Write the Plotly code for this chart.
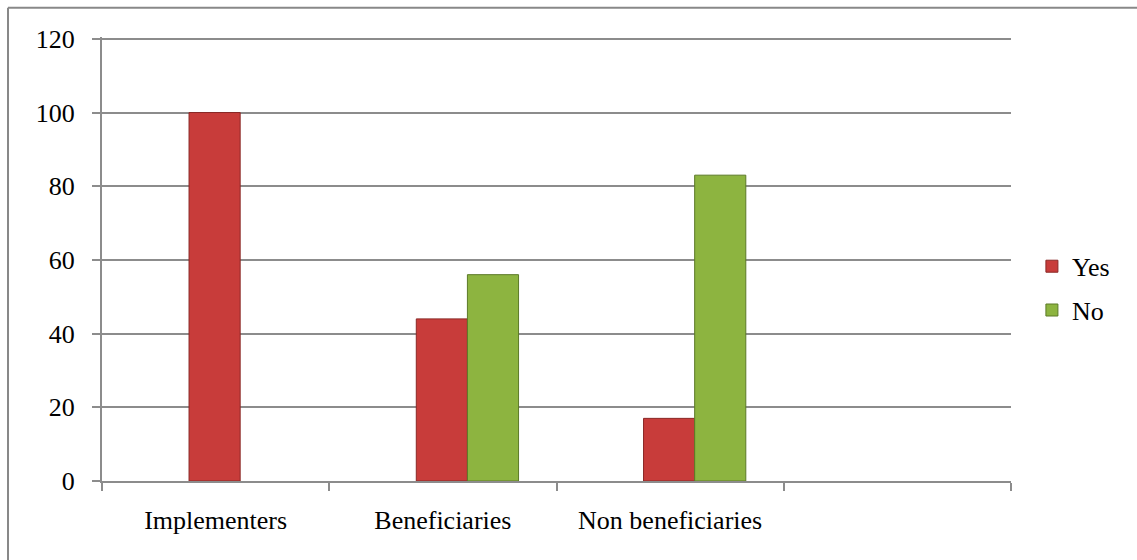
import plotly.graph_objects as go

categories = ["Implementers", "Beneficiaries", "Non beneficiaries", " "]
yes_values = [100, 44, 17, None]
no_values = [None, 56, 83, None]
y_ticks = [0, 20, 40, 60, 80, 100, 120]

FONT = "'Liberation Serif', 'Times New Roman', 'DejaVu Serif', serif"
GRID = "#8c8c8c"
FS = 26

fig = go.Figure()
fig.add_trace(go.Bar(
    x=categories, y=yes_values, name="Yes", legendgroup="yes",
    width=0.225, offset=-0.117,
    marker=dict(color="#C83C3A", line=dict(color="#8A2826", width=1)),
))
fig.add_trace(go.Bar(
    x=categories, y=no_values, name="No", legendgroup="no",
    width=0.225, offset=0.108,
    marker=dict(color="#8DB440", line=dict(color="#5C7A27", width=1)),
))

fig.update_layout(
    width=1137, height=560,
    margin=dict(l=102, r=126, t=37, b=79),
    paper_bgcolor="white", plot_bgcolor="white",
    font=dict(family=FONT, size=FS, color="black"),
    barmode="overlay",
    showlegend=True,
    legend=dict(
        x=1.023, xanchor="left", y=0.434, yanchor="middle",
        font=dict(family=FONT, size=FS, color="black"),
        tracegroupgap=7, itemwidth=30,
        bgcolor="rgba(0,0,0,0)",
    ),
    xaxis=dict(
        type="category", categoryorder="array", categoryarray=categories,
        range=[-0.5, 3.5], tickson="boundaries",
        ticks="outside", ticklen=8, tickcolor=GRID, tickwidth=2,
        showline=True, linecolor=GRID, linewidth=2,
        showgrid=False, ticklabelstandoff=15,
        tickfont=dict(family=FONT, size=FS, color="black"),
    ),
    yaxis=dict(
        range=[0, 120.5], tickvals=y_ticks,
        ticks="outside", ticklen=8, tickcolor=GRID, tickwidth=2,
        showline=True, linecolor=GRID, linewidth=2,
        showgrid=True, gridcolor=GRID, gridwidth=2,
        zeroline=False, ticklabelstandoff=12,
        tickfont=dict(family=FONT, size=FS, color="black"),
    ),
    shapes=[
        dict(type="line", xref="paper", yref="paper",
             x0=-0.1034, x1=2.0, y0=1.066, y1=1.066,
             line=dict(color="#888888", width=2)),
        dict(type="line", xref="paper", yref="paper",
             x0=-0.1034, x1=-0.1034, y0=1.066, y1=-1.0,
             line=dict(color="#888888", width=2)),
    ],
)

fig.write_html("out.html")
